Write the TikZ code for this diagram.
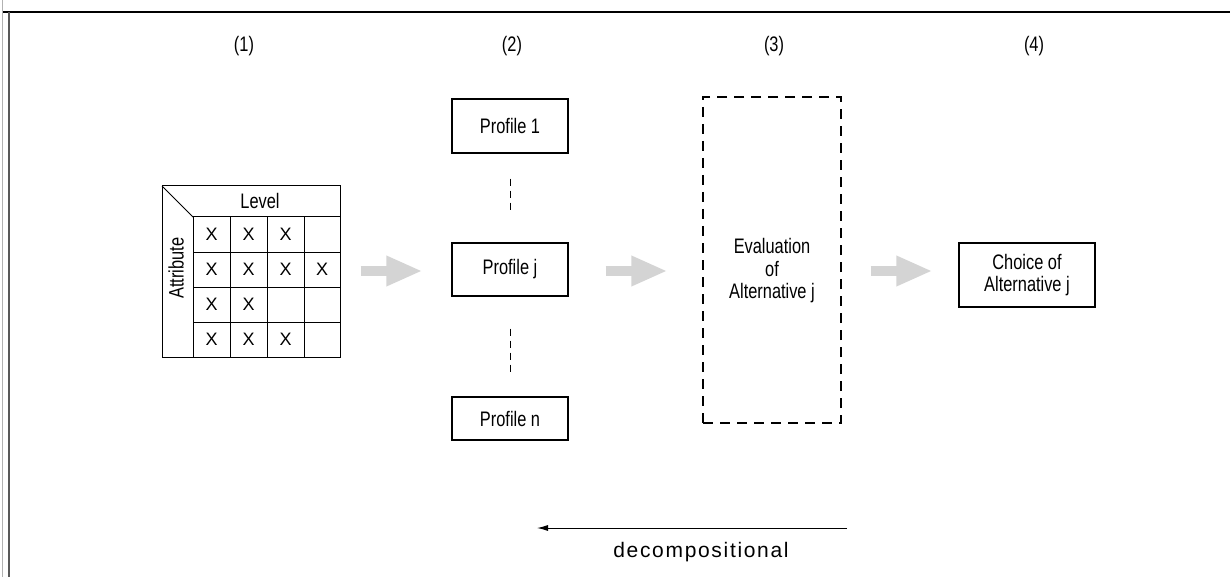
\documentclass[tikz,border=0pt]{standalone}
\usepackage{fontspec}
\setmainfont{Liberation Sans}
\newfontfamily\cond[FakeStretch=0.78]{Liberation Sans}
\newfontfamily\spaced[LetterSpace=8]{Liberation Sans}
\usetikzlibrary{arrows.meta}
\begin{document}
\begin{tikzpicture}[x=1pt,y=-1pt,
  lbl/.style={font=\cond\fontsize{21}{22.5}\selectfont, align=center, inner sep=0pt},
  box/.style={draw, line width=1.1pt, minimum width=116pt, lbl},
  dashbox/.style={draw, line width=1.1pt, dash pattern=on 10pt off 7pt, inner sep=0pt},
  vdash/.style={line width=1pt, dash pattern=on 7pt off 5pt},
  fat/.style={draw=black!17, line width=10pt, -{Triangle[length=36pt,width=28pt]}},
  gridline/.style={line width=1pt},
  xmark/.style={font=\fontsize{18}{18}\selectfont, inner sep=0pt},
  colhead/.style={font=\cond\fontsize{21}{21}\selectfont, inner sep=0pt}
]
\useasboundingbox (0,0) rectangle (1230,577);
% frame
\draw[line width=1.5pt] (3,12) -- (1230,12);
\draw[line width=1.2pt, black!65] (9,12) -- (9,577);
\draw[line width=0.8pt, black!30] (2,0) -- (2,577);
% column heads
\node[colhead] (c1) at (244,46) {(1)};
\node[colhead] (c2) at (512,46) {(2)};
\node[colhead] (c3) at (774,46) {(3)};
\node[colhead] (c4) at (1034,46) {(4)};
% matrix
\node[draw, line width=1pt, minimum width=178pt, minimum height=171pt, inner sep=0pt] (mat) at (251,271.5) {};
\draw[gridline] (162,186) -- (193,217);
\draw[gridline] (193,217) -- (340,217);
\draw[gridline] (193,217) -- (193,357);
\foreach \x in {230,267,304} \draw[gridline] (\x,217) -- (\x,357);
\foreach \y in {252,287,322} \draw[gridline] (193,\y) -- (340,\y);
\node[lbl] (lev) at (260,201) {Level};
\node[lbl, rotate=90] (att) at (176,268) {Attribute};
\foreach \x/\y in {211.5/234.5,248.5/234.5,285.5/234.5,
                   211.5/269.5,248.5/269.5,285.5/269.5,322/269.5,
                   211.5/304.5,248.5/304.5,
                   211.5/339.5,248.5/339.5,285.5/339.5}
  \node[xmark] at (\x,\y) {X};
% profiles
\node[box, minimum height=54pt] (p1) at (510,126) {Profile 1};
\node[box, minimum height=53pt] (pj) at (510,269.5) {Profile j};
\node[box, minimum height=43pt] (pn) at (510,418.5) {Profile n};
\draw[vdash, shorten <=25pt, shorten >=28pt] (p1) -- (pj);
\draw[vdash, shorten <=32pt, shorten >=22pt] (pj) -- (pn);
% evaluation
\node[dashbox, minimum width=138pt, minimum height=326pt] (ev) at (772,260) {};
\node[lbl] (evt) at (772,271) {Evaluation\\of\\Alternative j};
% choice
\node[box, minimum width=136pt, minimum height=64pt, align=center] (ch) at (1027,275) {Choice of\\Alternative j};
% gray arrows
\draw[fat, shorten <=20pt, shorten >=29pt] (mat.east |- 0,271) -- (pj.west |- 0,271);
\draw[fat, shorten <=37pt, shorten >=35pt] (pj.east |- 0,271) -- (ev.west |- 0,271);
\draw[fat, shorten <=29pt, shorten >=26pt] (ev.east |- 0,271) -- (ch.west |- 0,271);
% decompositional
\coordinate (ds) at (847,528);
\coordinate (de) at (537,528);
\draw[line width=1pt, -{Latex[length=11pt,width=6pt]}] (ds) -- (de);
\node[font=\spaced\fontsize{21}{21}\selectfont, inner sep=0pt] (dl) at (701,552) {decompositional};
\end{tikzpicture}
\end{document}
